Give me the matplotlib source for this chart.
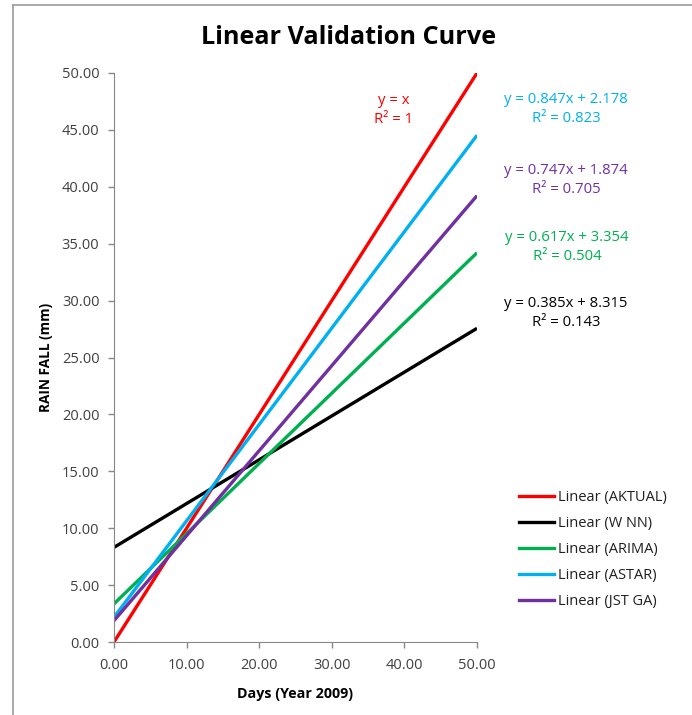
import matplotlib.pyplot as plt
from matplotlib.lines import Line2D

plt.rcParams['font.family'] = ['Open Sans', 'DejaVu Sans']

# trend lines, evaluated at the ends of the x range
x_ends = [0.0, 50.0]
series = ['AKTUAL', 'W NN', 'ARIMA', 'ASTAR', 'JST GA']
y_start = [0.0, 8.315, 3.354, 2.178, 1.874]
y_end = [50.0, 27.565, 34.204, 44.528, 39.224]
colors = ['#FF0000', '#000000', '#00B050', '#00B0F0', '#7030A0']

equations = ['y = x\nR² = 1',
             'y = 0.385x + 8.315\nR² = 0.143',
             'y = 0.617x + 3.354\nR² = 0.504',
             'y = 0.847x + 2.178\nR² = 0.823',
             'y = 0.747x + 1.874\nR² = 0.705']
# label anchor positions (figure pixels)
eq_pos = [(394, 110), (566, 313), (567, 247), (566, 109), (566, 180)]

ticks = [0, 10, 20, 30, 40, 50]
yticks = [0, 5, 10, 15, 20, 25, 30, 35, 40, 45, 50]

W, H = 692, 715
fig = plt.figure(figsize=(6.92, 7.15), dpi=100)
ax = fig.add_axes([114 / W, 1 - 642 / H, (477 - 114) / W, (642 - 73) / H])

for i in range(len(series)):
    ax.plot(x_ends, [y_start[i], y_end[i]], color=colors[i], lw=2.4,
            solid_capstyle='butt')

ax.set_xlim(0, 50)
ax.set_ylim(0, 50)
ax.set_xticks(ticks)
ax.set_yticks(yticks)
ax.set_xticklabels([f'{t:.2f}' for t in ticks])
ax.set_yticklabels([f'{t:.2f}' for t in yticks])
ax.tick_params(colors='#888888', labelcolor='#404040', labelsize=10.5,
               length=4.5, width=1)
ax.tick_params(axis='y', pad=6)
ax.tick_params(axis='x', pad=7)
for s in ['top', 'right']:
    ax.spines[s].set_visible(False)
for s in ['left', 'bottom']:
    ax.spines[s].set_color('#888888')

ax.set_xlabel('Days (Year 2009)', fontsize=10.3, fontweight='bold', labelpad=10)
ax.set_ylabel('RAIN FALL (mm)', fontsize=9.8, fontweight='bold', labelpad=6)

fig.text(349 / W, 1 - 37 / H, 'Linear Validation Curve', fontsize=18.2,
         fontweight='bold', ha='center', va='center')

for txt, (px, py), c in zip(equations, eq_pos, colors):
    fig.text(px / W, 1 - py / H, txt, color=c, fontsize=10.7,
             ha='center', va='center', linespacing=1.4)

handles = [Line2D([], [], color=c, lw=2.4) for c in colors]
fig.legend(handles, [f'Linear ({s})' for s in series], loc='upper left',
           bbox_to_anchor=(506 / W, 1 - 477 / H), frameon=False,
           fontsize=10.5, handlelength=2.4, handletextpad=0.25,
           labelspacing=0.76, labelcolor='#202020')

# chart frame edges
fig.add_artist(Line2D([12.5 / W, 12.5 / W], [0, 1 - 4.5 / H],
                      transform=fig.transFigure, color='#999999', lw=1.2))
fig.add_artist(Line2D([12.5 / W, 1], [1 - 4.5 / H, 1 - 4.5 / H],
                      transform=fig.transFigure, color='#999999', lw=1.2))

fig.savefig('out.png', dpi=100)
